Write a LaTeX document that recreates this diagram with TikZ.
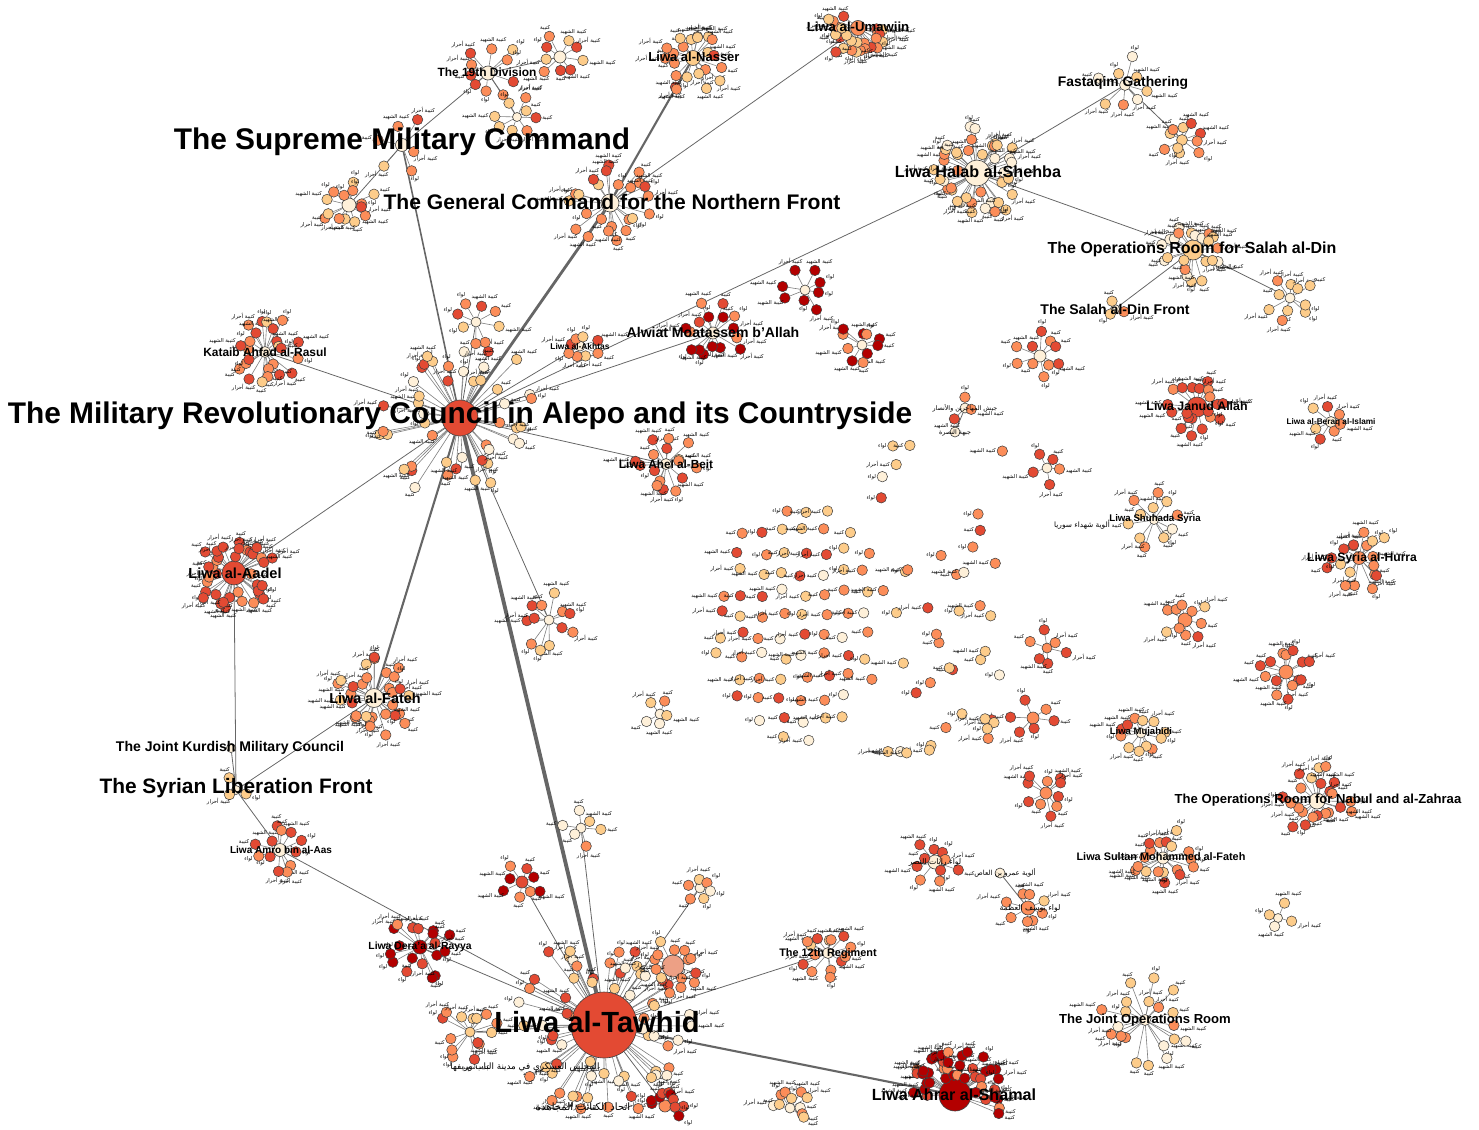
\documentclass[tikz,border=0pt]{standalone}
\usepackage{fontspec}
\setmainfont{Liberation Sans}
\newfontfamily\arabicfont[Script=Arabic]{DejaVu Sans}
\TeXXeTstate=1
\usetikzlibrary{calc}
\definecolor{creamcolor}{HTML}{FEF0D9}
\definecolor{peachcolor}{HTML}{FDCC8A}
\definecolor{orangecolor}{HTML}{FC8D59}
\definecolor{redcolor}{HTML}{E34A33}
\definecolor{darkcolor}{HTML}{B30000}
\definecolor{salmoncolor}{HTML}{EDA085}
\pgfdeclarelayer{edges}
\pgfdeclarelayer{titles}
\pgfsetlayers{edges,main,titles}
\pgfmathdeclarerandomlist{light}{{creamcolor}{peachcolor}{peachcolor}{orangecolor}}
\pgfmathdeclarerandomlist{warm}{{orangecolor}{orangecolor}{redcolor}{peachcolor}}
\pgfmathdeclarerandomlist{red}{{redcolor}{redcolor}{orangecolor}}
\pgfmathdeclarerandomlist{dark}{{darkcolor}{darkcolor}{darkcolor}{redcolor}{orangecolor}}
\pgfmathdeclarerandomlist{mixed}{{creamcolor}{peachcolor}{orangecolor}{redcolor}{orangecolor}{peachcolor}}
\pgfmathdeclarerandomlist{tagwords}{{\beginR كتيبة\endR}{\beginR لواء\endR}{\beginR كتيبة الشهيد\endR}{\beginR كتيبة أحرار\endR}}

% hub, count, radius, colours, first angle, sweep
\newcommand{\satellites}[6]{%
  \foreach \k in {1,...,#2}{%
    \pgfmathsetmacro{\ang}{#5+#6/#2*\k+#6/12*rnd}%
    \pgfmathsetmacro{\rad}{#3*(0.45+0.7*rnd)}%
    \pgfmathtruncatemacro{\outward}{mod(720-\ang,360)}%
    \pgfmathtruncatemacro{\inward}{mod(900-\ang,360)}%
    \pgfmathrandomitem{\col}{#4}%
    \pgfmathrandomitem{\word}{tagwords}%
    \node[leaf, fill=\col] (#1-\k) at ($(#1)+(\ang:\rad)$) {};
    \node[tag, anchor=\inward] (#1-\k-tag) at (#1-\k.\outward) {\word};
  }%
}

% hub/count/radius/colours/first angle/sweep
\def\groups{mrc/46/72/mixed/0/360, tawhid/64/80/mixed/0/360, shamal/42/42/dark/168/204,
  aadel/36/36/red/0/360, janud/20/26/red/0/360, halab/42/42/light/0/360,
  fateh/30/36/warm/0/360, salah/22/30/light/0/360, umawiin/26/30/warm/-25/230,
  nasser/22/32/warm/0/360, gencmd/24/38/warm/0/360, supreme/6/28/warm/0/360,
  div19/10/32/warm/0/360, fastaqim/8/26/light/0/360, slf/3/16/light/0/360,
  amro/12/24/red/0/360, deraa/18/30/dark/0/360, reg12/14/24/warm/0/360,
  salmon/14/24/warm/0/360, ahfad/24/32/warm/0/360, akhtas/8/18/warm/0/360,
  alwiat/16/30/dark/0/360, ahel/16/27/warm/0/360, salahfront/3/14/light/0/360,
  beraq/7/20/warm/0/360, shuhada/12/26/light/0/360, hurra/18/30/warm/0/360,
  mujahidi/12/22/warm/0/360, nabul/22/32/warm/0/360, sultan/18/30/warm/0/360,
  jointops/20/40/light/0/360, irada/8/22/warm/0/360, sharq/12/28/warm/0/360,
  rahma/8/20/dark/0/360, tawba/10/22/dark/0/360, special/14/24/warm/0/360,
  khilafa/9/22/warm/0/360, mursi/8/20/warm/0/360, mohajir/10/22/red/0/360,
  saif/5/18/red/0/360, tajamu/10/20/warm/0/360, halabjadid/10/22/light/0/360,
  suqur/10/22/warm/0/360, usud/14/25/red/0/360, shahba/6/20/red/0/360,
  far/6/20/red/0/360, majlis/10/22/red/0/360, rayat/10/22/red/0/360,
  azma/8/22/warm/0/360, ansar/4/15/light/0/360, jil/8/20/dark/0/360,
  sabr/6/18/light/0/360, nour/6/18/light/0/360, haq/10/18/light/150/240,
  izza/10/18/dark/150/240, bab/14/28/warm/0/360, muhajirin/3/14/red/0/360,
  tamim/5/15/light/0/360}

\begin{document}
\begin{tikzpicture}[
    x=0.02cm, y=-0.02cm,
    hub/.style={circle, draw=black!75, line width=0.35pt, inner sep=0pt, minimum size=#1},
    leaf/.style={circle, draw=black!75, line width=0.3pt, inner sep=0pt, minimum size=0.21cm},
    tag/.style={font=\arabicfont\fontsize{3}{3.5}\selectfont, inner sep=0.3pt},
    tie/.style={draw=black!50, line width=0.35pt},
    link/.style={draw=black!60, line width=#1},
    title/.style={font=\fontsize{#1}{#1}\selectfont\bfseries, inner sep=0pt},
    arabtitle/.style={font=\arabicfont\fontsize{#1}{#1}\selectfont, inner sep=0pt}
]
    \pgfmathsetseed{2013}
    \useasboundingbox (0,0) rectangle (1479,1129);

    % Hubs
    \node[hub=0.72cm, fill=redcolor] (mrc) at (460,418) {};
    \node[hub=1.32cm, fill=redcolor] (tawhid) at (604,1025) {};
    \node[hub=0.64cm, fill=darkcolor] (shamal) at (955,1095) {};
    \node[hub=0.48cm, fill=redcolor] (aadel) at (234,573) {};
    \node[hub=0.40cm, fill=redcolor] (janud) at (1197,407) {};
    \node[hub=0.52cm, fill=creamcolor] (halab) at (977,173) {};
    \node[hub=0.38cm, fill=creamcolor] (fateh) at (374,698) {};
    \node[hub=0.40cm, fill=peachcolor] (salah) at (1193,250) {};
    \node[hub=0.30cm, fill=orangecolor] (umawiin) at (858,28) {};
    \node[hub=0.30cm, fill=peachcolor] (nasser) at (693,58) {};
    \node[hub=0.36cm, fill=creamcolor] (gencmd) at (610,203) {};
    \node[hub=0.26cm, fill=creamcolor] (supreme) at (402,145) {};
    \node[hub=0.28cm, fill=creamcolor] (div19) at (488,73) {};
    \node[hub=0.22cm, fill=creamcolor] (fastaqim) at (1125,85) {};
    \node[hub=0.18cm, fill=creamcolor] (slf) at (236,790) {};
    \node[hub=0.18cm, fill=creamcolor] (kurd) at (231,748) {};
    \node[hub=0.26cm, fill=creamcolor] (amro) at (280,850) {};
    \node[hub=0.28cm, fill=darkcolor] (deraa) at (420,947) {};
    \node[hub=0.22cm, fill=creamcolor] (reg12) at (828,953) {};
    \node[hub=0.44cm, fill=salmoncolor] (salmon) at (673,966) {};
    \node[hub=0.22cm, fill=creamcolor] (ahfad) at (265,352) {};
    \node[hub=0.20cm, fill=creamcolor] (akhtas) at (580,346) {};
    \node[hub=0.24cm, fill=creamcolor] (alwiat) at (713,333) {};
    \node[hub=0.22cm, fill=creamcolor] (ahel) at (666,464) {};
    \node[hub=0.18cm, fill=creamcolor] (salahfront) at (1115,309) {};
    \node[hub=0.22cm, fill=creamcolor] (beraq) at (1331,422) {};
    \node[hub=0.18cm, fill=creamcolor] (shuhada) at (1154,520) {};
    \node[hub=0.26cm, fill=orangecolor] (hurra) at (1359,558) {};
    \node[hub=0.20cm, fill=creamcolor] (mujahidi) at (1141,733) {};
    \node[hub=0.32cm, fill=creamcolor] (nabul) at (1317,801) {};
    \node[hub=0.24cm, fill=creamcolor] (sultan) at (1163,858) {};
    \node[hub=0.22cm, fill=creamcolor] (jointops) at (1145,1020) {};

    % Smaller groups
    \node[hub=0.20cm, fill=creamcolor] (irada) at (476,322) {};
    \node[hub=0.20cm, fill=creamcolor] (sharq) at (549,620) {};
    \node[hub=0.20cm, fill=creamcolor] (rahma) at (805,290) {};
    \node[hub=0.20cm, fill=creamcolor] (tawba) at (862,345) {};
    \node[hub=0.28cm, fill=creamcolor] (special) at (349,205) {};
    \node[hub=0.24cm, fill=creamcolor] (khilafa) at (560,57) {};
    \node[hub=0.18cm, fill=creamcolor] (mursi) at (517,117) {};
    \node[hub=0.24cm, fill=creamcolor] (mohajir) at (1040,356) {};
    \node[hub=0.20cm, fill=creamcolor] (saif) at (1047,468) {};
    \node[hub=0.22cm, fill=peachcolor] (tajamu) at (1182,140) {};
    \node[hub=0.20cm, fill=creamcolor] (halabjadid) at (1290,298) {};
    \node[hub=0.28cm, fill=orangecolor] (suqur) at (1185,620) {};
    \node[hub=0.28cm, fill=orangecolor] (usud) at (1286,672) {};
    \node[hub=0.20cm, fill=orangecolor] (shahba) at (1047,648) {};
    \node[hub=0.24cm, fill=orangecolor] (far) at (1033,718) {};
    \node[hub=0.24cm, fill=orangecolor] (majlis) at (1046,793) {};
    \node[hub=0.28cm, fill=creamcolor] (rayat) at (935,862) {};
    \node[hub=0.28cm, fill=orangecolor] (azma) at (1028,908) {};
    \node[hub=0.20cm, fill=creamcolor] (amrou) at (1000,873) {};
    \node[hub=0.18cm, fill=creamcolor] (ansar) at (1278,918) {};
    \node[hub=0.24cm, fill=redcolor] (jil) at (522,882) {};
    \node[hub=0.20cm, fill=creamcolor] (sabr) at (581,828) {};
    \node[hub=0.20cm, fill=creamcolor] (nour) at (700,888) {};
    \node[hub=0.20cm, fill=creamcolor] (haq) at (790,1108) {};
    \node[hub=0.24cm, fill=orangecolor] (izza) at (665,1106) {};
    \node[hub=0.20cm, fill=peachcolor] (bab) at (470,1032) {};
    \node[hub=0.20cm, fill=creamcolor] (muhajirin) at (965,408) {};
    \node[hub=0.20cm, fill=creamcolor] (nusra) at (955,432) {};
    \node[hub=0.20cm, fill=creamcolor] (tamim) at (660,714) {};

    % Satellites
    \foreach \h/\n/\r/\l/\s/\w in \groups {\satellites{\h}{\n}{\r}{\l}{\s}{\w}}

    % Loose units in the middle
    \foreach \r in {0,...,11}{
      \foreach \c in {0,...,8}{
        \pgfmathsetmacro{\px}{715+\c*21+10*rnd}
        \pgfmathsetmacro{\py}{505+\r*21+8*rnd}
        \pgfmathtruncatemacro{\inside}{((\px-800)/88)^2+((\py-620)/122)^2<1}
        \ifnum\inside=1
          \pgfmathrandomitem{\col}{mixed}
          \pgfmathrandomitem{\word}{tagwords}
          \node[leaf, fill=\col] (mid-\r-\c) at (\px,\py) {};
          \node[tag, anchor=east] (mid-\r-\c-tag) at (mid-\r-\c.west) {\word};
        \fi
      }
    }
    \foreach \k in {1,...,42}{
      \pgfmathsetmacro{\px}{880+125*rnd}
      \pgfmathsetmacro{\py}{445+320*rnd}
      \pgfmathrandomitem{\col}{mixed}
      \pgfmathrandomitem{\word}{tagwords}
      \node[leaf, fill=\col] (loose-\k) at (\px,\py) {};
      \node[tag, anchor=east] (loose-\k-tag) at (loose-\k.west) {\word};
    }

    % Links
    \begin{pgfonlayer}{edges}
    \foreach \h/\n/\r/\l/\s/\w in \groups {
      \foreach \k in {1,...,\n} \draw[tie] (\h) -- (\h-\k);
    }
    \draw[link=2.2pt] (mrc) -- (tawhid);
    \draw[link=1.6pt] (mrc) -- (gencmd);
    \draw[link=1.2pt] (gencmd) -- (nasser);
    \draw[link=1.2pt] (mrc) -- (fateh);
    \draw[link=1.2pt] (tawhid) -- (shamal);
    \draw[link=0.9pt] (mrc) -- (supreme);
    \foreach \a/\b in {gencmd/umawiin, mrc/halab, mrc/ahfad, mrc/aadel, mrc/akhtas,
        mrc/alwiat, mrc/ahel, mrc/irada, mrc/sharq, supreme/div19, supreme/special,
        div19/khilafa, div19/mursi, halab/fastaqim, halab/salah, fastaqim/tajamu,
        salah/salahfront, salah/halabjadid, aadel/slf, fateh/slf, slf/kurd, slf/amro,
        amro/tawhid, tawhid/reg12, tawhid/deraa, tawhid/salmon, tawhid/nour,
        tawhid/izza, tawhid/bab, tawhid/jil, tawhid/sabr, amrou/azma, muhajirin/nusra}
        \draw[link=0.45pt] (\a) -- (\b);
    \end{pgfonlayer}

    % Titles
    \begin{pgfonlayer}{titles}
    \node[title=17] (mrc-title) at (460,416) {The Military Revolutionary Council in Alepo and its Countryside};
    \node[title=16.6] (tawhid-title) at (597,1022) {Liwa al-Tawhid};
    \node[title=17] (supreme-title) at (402,142) {The Supreme Military Command};
    \node[title=12] (gencmd-title) at (612,202) {The General Command for the Northern Front};
    \node[title=11.9] (slf-title) at (236,788) {The Syrian Liberation Front};
    \node[title=9.2] (halab-title) at (978,172) {Liwa Halab al-Shehba};
    \node[title=9.1] (salah-title) at (1192,249) {The Operations Room for Salah al-Din};
    \node[title=9.2] (shamal-title) at (954,1095) {Liwa Ahrar al-Shamal};
    \node[title=8] (alwiat-title) at (713,332) {Alwiat Moatassem b'Allah};
    \node[title=8.3] (aadel-title) at (235,573) {Liwa al-Aadel};
    \node[title=8.2] (fateh-title) at (375,698) {Liwa al-Fateh};
    \node[title=7.9] (fastaqim-title) at (1123,83) {Fastaqim Gathering};
    \node[title=8] (salahfront-title) at (1115,309) {The Salah al-Din Front};
    \node[title=7.5] (umawiin-title) at (858,27) {Liwa al-Umawiin};
    \node[title=7.4] (nasser-title) at (694,57) {Liwa al-Nasser};
    \node[title=8] (kurd-title) at (230,748) {The Joint Kurdish Military Council};
    \node[title=7.45] (nabul-title) at (1318,800) {The Operations Room for Nabul and al-Zahraa};
    \node[title=7.45] (jointops-title) at (1145,1020) {The Joint Operations Room};
    \node[title=6.8] (div19-title) at (487,72) {The 19th Division};
    \node[title=6.8] (ahfad-title) at (265,352) {Kataib Ahfad al-Rasul};
    \node[title=6.7] (ahel-title) at (666,464) {Liwa Ahel al-Beit};
    \node[title=7.05] (janud-title) at (1197,406) {Liwa Janud Allah};
    \node[title=6.2] (sultan-title) at (1161,857) {Liwa Sultan Mohammed al-Fateh};
    \node[title=6.9] (hurra-title) at (1362,558) {Liwa Syria al-Hurra};
    \node[title=6.2] (reg12-title) at (828,954) {The 12th Regiment};
    \node[title=5.9] (deraa-title) at (420,947) {Liwa Dera'a al-Rayya};
    \node[title=5.7] (amro-title) at (281,850) {Liwa Amro bin al-Aas};
    \node[title=5.5] (shuhada-title) at (1155,519) {Liwa Shuhada Syria};
    \node[title=5.4] (mujahidi-title) at (1141,732) {Liwa Mujahidi};
    \node[title=4.7] (beraq-title) at (1331,422) {Liwa al-Beraq al-Islami};
    \node[title=4.8] (akhtas-title) at (580,346) {Liwa al-Akhtas};

    \node[arabtitle=4.4] (rayat-title) at (935,862) {\beginR لواء رايات النصر\endR};
    \node[arabtitle=4] (amrou-title) at (1005,873) {\beginR ألوية عمرو بن العاص\endR};
    \node[arabtitle=4.4] (azma-title) at (1030,908) {\beginR لواء يوسف العظمة\endR};
    \node[arabtitle=3.6] (muhajirin-title) at (965,408) {\beginR جيش المهاجرين والأنصار\endR};
    \node[arabtitle=3.6] (nusra-title) at (955,433) {\beginR جبهة النصرة\endR};
    \node[arabtitle=4.2] (shuhada-ar) at (1082,525) {\beginR ألوية شهداء سوريا\endR};
    \node[arabtitle=5] (bab-title) at (525,1067) {\beginR المجلس العسكري في مدينة الباب وريفها\endR};
    \node[arabtitle=5.8] (ittihad-title) at (583,1107) {\beginR اتحاد الكتائب المجاهدة\endR};
    \end{pgfonlayer}
\end{tikzpicture}
\end{document}
